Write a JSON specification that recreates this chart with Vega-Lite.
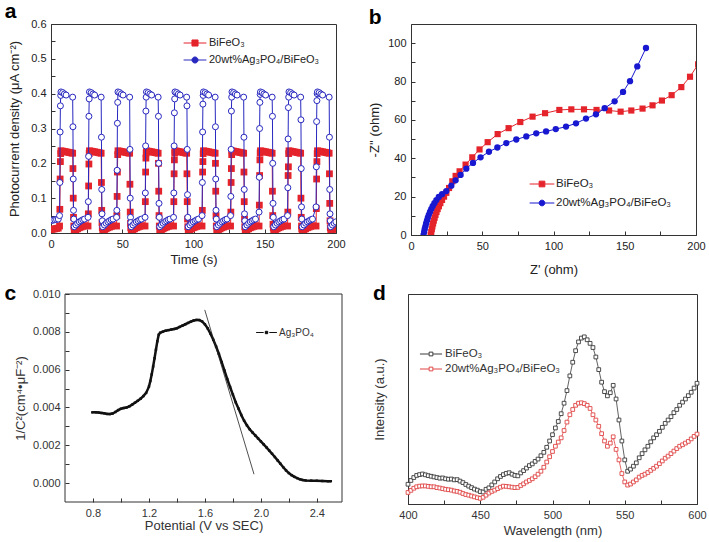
{
"$schema":"https://vega.github.io/schema/vega-lite/v6.json",
"padding":{"left":4,"top":0,"right":2,"bottom":0},
"spacing":5,
"resolve":{"scale":{"color":"independent"},"legend":{"color":"independent"}},
"config":{
 "font":"Liberation Sans",
 "view":{"stroke":"#333","strokeWidth":1},
 "axis":{"grid":false,"domainColor":"#333","tickColor":"#333","labelFontSize":11,"titleFontSize":13,"labelColor":"#222","titleColor":"#222","titleFontWeight":"normal","tickSize":-4,"labelPadding":9,"labelFlush":false,"labelOverlap":false},
 "legend":{"padding":0,"labelFontSize":11,"labelColor":"#222","rowPadding":0,"symbolStrokeWidth":1},
 "title":{"fontSize":21,"fontWeight":"bold","anchor":"start","frame":"bounds","color":"#000"}
},
"datasets":{
"aR":[{"t":0.3,"v":0.01},{"t":1.5,"v":0.011},{"t":2.7,"v":0.012},{"t":3.9,"v":0.013},{"t":5.1,"v":0.014},
{"t":6,"v":0.02},{"t":6.2,"v":0.068},{"t":6.4,"v":0.155},{"t":6.6,"v":0.205},{"t":6.8,"v":0.228},{"t":7,"v":0.236},{"t":8.2,"v":0.235},{"t":9.4,"v":0.234},{"t":10.6,"v":0.233},{"t":11.8,"v":0.232},{"t":13,"v":0.231},{"t":14.2,"v":0.23},{"t":15.2,"v":0.229},{"t":15.4,"v":0.185},{"t":15.6,"v":0.1},{"t":15.8,"v":0.045},{"t":16,"v":0.02},{"t":16.3,"v":0.006},{"t":17.5,"v":0.009},{"t":18.7,"v":0.012},{"t":19.9,"v":0.015},{"t":21.1,"v":0.017},{"t":22.3,"v":0.019},{"t":23.5,"v":0.021},
{"t":26,"v":0.02},{"t":26.2,"v":0.055},{"t":26.4,"v":0.135},{"t":26.6,"v":0.198},{"t":26.8,"v":0.228},{"t":27,"v":0.236},{"t":28.2,"v":0.235},{"t":29.4,"v":0.234},{"t":30.6,"v":0.233},{"t":31.8,"v":0.232},{"t":33,"v":0.231},{"t":34.2,"v":0.23},{"t":35.2,"v":0.229},{"t":35.4,"v":0.145},{"t":35.6,"v":0.065},{"t":35.8,"v":0.03},{"t":36,"v":0.015},{"t":36.3,"v":0.006},{"t":37.5,"v":0.009},{"t":38.7,"v":0.012},{"t":39.9,"v":0.015},{"t":41.1,"v":0.017},{"t":42.3,"v":0.019},{"t":43.5,"v":0.021},
{"t":46,"v":0.02},{"t":46.2,"v":0.05},{"t":46.4,"v":0.105},{"t":46.6,"v":0.175},{"t":46.8,"v":0.225},{"t":47,"v":0.236},{"t":48.2,"v":0.235},{"t":49.4,"v":0.234},{"t":50.6,"v":0.233},{"t":51.8,"v":0.232},{"t":53,"v":0.231},{"t":54.2,"v":0.23},{"t":55.2,"v":0.229},{"t":55.4,"v":0.14},{"t":55.6,"v":0.06},{"t":55.8,"v":0.028},{"t":56,"v":0.015},{"t":56.3,"v":0.006},{"t":57.5,"v":0.009},{"t":58.7,"v":0.012},{"t":59.9,"v":0.015},{"t":61.1,"v":0.017},{"t":62.3,"v":0.019},{"t":63.5,"v":0.021},
{"t":66,"v":0.02},{"t":66.2,"v":0.09},{"t":66.4,"v":0.175},{"t":66.6,"v":0.215},{"t":66.8,"v":0.23},{"t":67,"v":0.236},{"t":68.2,"v":0.235},{"t":69.4,"v":0.234},{"t":70.6,"v":0.233},{"t":71.8,"v":0.232},{"t":73,"v":0.231},{"t":74.2,"v":0.23},{"t":75.2,"v":0.229},{"t":75.4,"v":0.2},{"t":75.6,"v":0.12},{"t":75.8,"v":0.05},{"t":76,"v":0.02},{"t":76.3,"v":0.006},{"t":77.5,"v":0.009},{"t":78.7,"v":0.012},{"t":79.9,"v":0.015},{"t":81.1,"v":0.017},{"t":82.3,"v":0.019},{"t":83.5,"v":0.021},
{"t":86,"v":0.02},{"t":86.2,"v":0.09},{"t":86.4,"v":0.17},{"t":86.6,"v":0.21},{"t":86.8,"v":0.23},{"t":87,"v":0.236},{"t":88.2,"v":0.235},{"t":89.4,"v":0.234},{"t":90.6,"v":0.233},{"t":91.8,"v":0.232},{"t":93,"v":0.231},{"t":94.2,"v":0.23},{"t":95.2,"v":0.229},{"t":95.4,"v":0.17},{"t":95.6,"v":0.09},{"t":95.8,"v":0.04},{"t":96,"v":0.018},{"t":96.3,"v":0.006},{"t":97.5,"v":0.009},{"t":98.7,"v":0.012},{"t":99.9,"v":0.015},{"t":101.1,"v":0.017},{"t":102.3,"v":0.019},{"t":103.5,"v":0.021},
{"t":106,"v":0.02},{"t":106.2,"v":0.065},{"t":106.4,"v":0.175},{"t":106.6,"v":0.205},{"t":106.8,"v":0.228},{"t":107,"v":0.236},{"t":108.2,"v":0.235},{"t":109.4,"v":0.234},{"t":110.6,"v":0.233},{"t":111.8,"v":0.232},{"t":113,"v":0.231},{"t":114.2,"v":0.23},{"t":115.2,"v":0.229},{"t":115.4,"v":0.2},{"t":115.6,"v":0.12},{"t":115.8,"v":0.05},{"t":116,"v":0.02},{"t":116.3,"v":0.006},{"t":117.5,"v":0.009},{"t":118.7,"v":0.012},{"t":119.9,"v":0.015},{"t":121.1,"v":0.017},{"t":122.3,"v":0.019},{"t":123.5,"v":0.021},
{"t":126,"v":0.02},{"t":126.2,"v":0.06},{"t":126.4,"v":0.145},{"t":126.6,"v":0.185},{"t":126.8,"v":0.225},{"t":127,"v":0.236},{"t":128.2,"v":0.235},{"t":129.4,"v":0.234},{"t":130.6,"v":0.233},{"t":131.8,"v":0.232},{"t":133,"v":0.231},{"t":134.2,"v":0.23},{"t":135.2,"v":0.229},{"t":135.4,"v":0.175},{"t":135.6,"v":0.09},{"t":135.8,"v":0.04},{"t":136,"v":0.018},{"t":136.3,"v":0.006},{"t":137.5,"v":0.009},{"t":138.7,"v":0.012},{"t":139.9,"v":0.015},{"t":141.1,"v":0.017},{"t":142.3,"v":0.019},{"t":143.5,"v":0.021},
{"t":146,"v":0.02},{"t":146.2,"v":0.08},{"t":146.4,"v":0.165},{"t":146.6,"v":0.21},{"t":146.8,"v":0.23},{"t":147,"v":0.236},{"t":148.2,"v":0.235},{"t":149.4,"v":0.234},{"t":150.6,"v":0.233},{"t":151.8,"v":0.232},{"t":153,"v":0.231},{"t":154.2,"v":0.23},{"t":155.2,"v":0.229},{"t":155.4,"v":0.12},{"t":155.6,"v":0.05},{"t":155.8,"v":0.025},{"t":156,"v":0.015},{"t":156.3,"v":0.006},{"t":157.5,"v":0.009},{"t":158.7,"v":0.012},{"t":159.9,"v":0.015},{"t":161.1,"v":0.017},{"t":162.3,"v":0.019},{"t":163.5,"v":0.021},
{"t":166,"v":0.02},{"t":166.2,"v":0.06},{"t":166.4,"v":0.165},{"t":166.6,"v":0.19},{"t":166.8,"v":0.228},{"t":167,"v":0.236},{"t":168.2,"v":0.235},{"t":169.4,"v":0.234},{"t":170.6,"v":0.233},{"t":171.8,"v":0.232},{"t":173,"v":0.231},{"t":174.2,"v":0.23},{"t":175.2,"v":0.229},{"t":175.4,"v":0.1},{"t":175.6,"v":0.045},{"t":175.8,"v":0.02},{"t":176,"v":0.012},{"t":176.3,"v":0.006},{"t":177.5,"v":0.009},{"t":178.7,"v":0.012},{"t":179.9,"v":0.015},{"t":181.1,"v":0.017},{"t":182.3,"v":0.019},{"t":183.5,"v":0.021},
{"t":186,"v":0.02},{"t":186.2,"v":0.07},{"t":186.4,"v":0.155},{"t":186.6,"v":0.205},{"t":186.8,"v":0.228},{"t":187,"v":0.236},{"t":188.2,"v":0.235},{"t":189.4,"v":0.234},{"t":190.6,"v":0.233},{"t":191.8,"v":0.232},{"t":193,"v":0.231},{"t":194.2,"v":0.23},{"t":195.2,"v":0.229},{"t":195.4,"v":0.17},{"t":195.6,"v":0.085},{"t":195.8,"v":0.035},{"t":196,"v":0.015},{"t":196.3,"v":0.006},{"t":197.5,"v":0.009},{"t":198.7,"v":0.012},{"t":199.9,"v":0.015}],
"aB":[{"t":0.3,"v":0.036},{"t":1.5,"v":0.037},{"t":2.7,"v":0.038},{"t":3.9,"v":0.039},{"t":5.1,"v":0.04},
{"t":6,"v":0.05},{"t":6.2,"v":0.145},{"t":6.4,"v":0.29},{"t":6.6,"v":0.365},{"t":6.8,"v":0.395},{"t":7,"v":0.405},{"t":8.2,"v":0.403},{"t":9.4,"v":0.399},{"t":10.6,"v":0.396},{"t":15.2,"v":0.39},{"t":15.4,"v":0.305},{"t":15.6,"v":0.155},{"t":15.8,"v":0.065},{"t":16,"v":0.04},{"t":16.3,"v":0.018},{"t":17.5,"v":0.023},{"t":18.7,"v":0.028},{"t":19.9,"v":0.032},{"t":21.1,"v":0.035},{"t":22.3,"v":0.038},{"t":23.5,"v":0.04},
{"t":26,"v":0.045},{"t":26.2,"v":0.09},{"t":26.4,"v":0.22},{"t":26.6,"v":0.335},{"t":26.8,"v":0.385},{"t":27,"v":0.405},{"t":28.2,"v":0.403},{"t":29.4,"v":0.399},{"t":30.6,"v":0.396},{"t":35.2,"v":0.39},{"t":35.4,"v":0.275},{"t":35.6,"v":0.125},{"t":35.8,"v":0.055},{"t":36,"v":0.035},{"t":36.3,"v":0.018},{"t":37.5,"v":0.023},{"t":38.7,"v":0.028},{"t":39.9,"v":0.032},{"t":41.1,"v":0.035},{"t":42.3,"v":0.038},{"t":43.5,"v":0.04},
{"t":46,"v":0.045},{"t":46.2,"v":0.065},{"t":46.4,"v":0.18},{"t":46.6,"v":0.315},{"t":46.8,"v":0.375},{"t":47,"v":0.405},{"t":48.2,"v":0.403},{"t":49.4,"v":0.399},{"t":50.6,"v":0.396},{"t":55.2,"v":0.39},{"t":55.4,"v":0.24},{"t":55.6,"v":0.1},{"t":55.8,"v":0.045},{"t":56,"v":0.03},{"t":56.3,"v":0.018},{"t":57.5,"v":0.023},{"t":58.7,"v":0.028},{"t":59.9,"v":0.032},{"t":61.1,"v":0.035},{"t":62.3,"v":0.038},{"t":63.5,"v":0.04},
{"t":66,"v":0.045},{"t":66.2,"v":0.115},{"t":66.4,"v":0.25},{"t":66.6,"v":0.35},{"t":66.8,"v":0.39},{"t":67,"v":0.405},{"t":68.2,"v":0.403},{"t":69.4,"v":0.399},{"t":70.6,"v":0.396},{"t":75.2,"v":0.39},{"t":75.4,"v":0.335},{"t":75.6,"v":0.2},{"t":75.8,"v":0.085},{"t":76,"v":0.045},{"t":76.3,"v":0.018},{"t":77.5,"v":0.023},{"t":78.7,"v":0.028},{"t":79.9,"v":0.032},{"t":81.1,"v":0.035},{"t":82.3,"v":0.038},{"t":83.5,"v":0.04},
{"t":86,"v":0.045},{"t":86.2,"v":0.115},{"t":86.4,"v":0.25},{"t":86.6,"v":0.345},{"t":86.8,"v":0.385},{"t":87,"v":0.405},{"t":88.2,"v":0.403},{"t":89.4,"v":0.399},{"t":90.6,"v":0.396},{"t":95.2,"v":0.39},{"t":95.4,"v":0.365},{"t":95.6,"v":0.24},{"t":95.8,"v":0.11},{"t":96,"v":0.045},{"t":96.3,"v":0.018},{"t":97.5,"v":0.023},{"t":98.7,"v":0.028},{"t":99.9,"v":0.032},{"t":101.1,"v":0.035},{"t":102.3,"v":0.038},{"t":103.5,"v":0.04},
{"t":106,"v":0.05},{"t":106.2,"v":0.145},{"t":106.4,"v":0.29},{"t":106.6,"v":0.37},{"t":106.8,"v":0.395},{"t":107,"v":0.405},{"t":108.2,"v":0.403},{"t":109.4,"v":0.399},{"t":110.6,"v":0.396},{"t":115.2,"v":0.39},{"t":115.4,"v":0.305},{"t":115.6,"v":0.155},{"t":115.8,"v":0.065},{"t":116,"v":0.04},{"t":116.3,"v":0.018},{"t":117.5,"v":0.023},{"t":118.7,"v":0.028},{"t":119.9,"v":0.032},{"t":121.1,"v":0.035},{"t":122.3,"v":0.038},{"t":123.5,"v":0.04},
{"t":126,"v":0.05},{"t":126.2,"v":0.105},{"t":126.4,"v":0.24},{"t":126.6,"v":0.35},{"t":126.8,"v":0.39},{"t":127,"v":0.405},{"t":128.2,"v":0.403},{"t":129.4,"v":0.399},{"t":130.6,"v":0.396},{"t":135.2,"v":0.39},{"t":135.4,"v":0.275},{"t":135.6,"v":0.125},{"t":135.8,"v":0.055},{"t":136,"v":0.035},{"t":136.3,"v":0.018},{"t":137.5,"v":0.023},{"t":138.7,"v":0.028},{"t":139.9,"v":0.032},{"t":141.1,"v":0.035},{"t":142.3,"v":0.038},{"t":143.5,"v":0.04},
{"t":146,"v":0.06},{"t":146.2,"v":0.16},{"t":146.4,"v":0.3},{"t":146.6,"v":0.375},{"t":146.8,"v":0.398},{"t":147,"v":0.405},{"t":148.2,"v":0.403},{"t":149.4,"v":0.399},{"t":150.6,"v":0.396},{"t":155.2,"v":0.39},{"t":155.4,"v":0.335},{"t":155.6,"v":0.2},{"t":155.8,"v":0.085},{"t":156,"v":0.045},{"t":156.3,"v":0.018},{"t":157.5,"v":0.023},{"t":158.7,"v":0.028},{"t":159.9,"v":0.032},{"t":161.1,"v":0.035},{"t":162.3,"v":0.038},{"t":163.5,"v":0.04},
{"t":166,"v":0.05},{"t":166.2,"v":0.13},{"t":166.4,"v":0.27},{"t":166.6,"v":0.36},{"t":166.8,"v":0.39},{"t":167,"v":0.405},{"t":168.2,"v":0.403},{"t":169.4,"v":0.399},{"t":170.6,"v":0.396},{"t":175.2,"v":0.39},{"t":175.4,"v":0.325},{"t":175.6,"v":0.185},{"t":175.8,"v":0.075},{"t":176,"v":0.04},{"t":176.3,"v":0.018},{"t":177.5,"v":0.023},{"t":178.7,"v":0.028},{"t":179.9,"v":0.032},{"t":181.1,"v":0.035},{"t":182.3,"v":0.038},{"t":183.5,"v":0.04},
{"t":186,"v":0.075},{"t":186.2,"v":0.19},{"t":186.4,"v":0.32},{"t":186.6,"v":0.38},{"t":186.8,"v":0.4},{"t":187,"v":0.405},{"t":188.2,"v":0.403},{"t":189.4,"v":0.399},{"t":190.6,"v":0.396},{"t":195.2,"v":0.39},{"t":195.4,"v":0.275},{"t":195.6,"v":0.125},{"t":195.8,"v":0.055},{"t":196,"v":0.035},{"t":196.3,"v":0.018},{"t":197.5,"v":0.023},{"t":198.7,"v":0.028},{"t":199.9,"v":0.032}],
"bR":[{"x":13.8,"y":0},{"x":14.2,"y":1.5},{"x":14.6,"y":3},{"x":15,"y":4.5},{"x":15.5,"y":6},{"x":16,"y":7.5},{"x":16.6,"y":9},{"x":17.2,"y":10.5},{"x":17.9,"y":12},{"x":18.7,"y":13.5},{"x":19.6,"y":15},{"x":20.6,"y":16.6},{"x":21.8,"y":18.3},{"x":23.2,"y":20},{"x":24.8,"y":22},{"x":26.7,"y":24.5},{"x":29,"y":28},{"x":31.3,"y":30.8},{"x":34.1,"y":33.2},{"x":38.3,"y":36.7},{"x":43,"y":40.5},{"x":48.1,"y":44.6},{"x":53.8,"y":48.4},{"x":60.8,"y":52.6},{"x":68.5,"y":55.7},{"x":76.7,"y":58.9},{"x":85.3,"y":61.7},{"x":94.1,"y":63.5},{"x":104.1,"y":65.2},{"x":112.5,"y":65.5},{"x":121.4,"y":65.5},{"x":130.2,"y":65.2},{"x":139,"y":64.9},{"x":147.1,"y":64.3},{"x":154.6,"y":64.9},{"x":162.5,"y":65.9},{"x":169.5,"y":67.6},{"x":176.1,"y":70.1},{"x":182.9,"y":72.9},{"x":189.7,"y":77.1},{"x":195.8,"y":82.5},{"x":201.5,"y":89}],
"bB":[{"x":8.8,"y":0},{"x":9.2,"y":1.5},{"x":9.6,"y":3},{"x":10.1,"y":4.5},{"x":10.6,"y":6},{"x":11.2,"y":7.5},{"x":11.8,"y":9},{"x":12.5,"y":10.5},{"x":13.3,"y":12},{"x":14.2,"y":13.5},{"x":15.2,"y":15},{"x":16.4,"y":16.6},{"x":17.8,"y":18.2},{"x":19.5,"y":19.8},{"x":21.8,"y":21.3},{"x":24.8,"y":22.9},{"x":28.3,"y":25.7},{"x":31.3,"y":28.5},{"x":34.8,"y":31.3},{"x":38.8,"y":34.6},{"x":43.5,"y":37.6},{"x":48.8,"y":40.5},{"x":54.7,"y":43.4},{"x":60.6,"y":45.6},{"x":66.9,"y":47.9},{"x":73.9,"y":49.8},{"x":80.9,"y":51.4},{"x":87.9,"y":53},{"x":94.8,"y":54},{"x":101.6,"y":55.2},{"x":108.8,"y":56.5},{"x":115.8,"y":58.2},{"x":122.8,"y":60.7},{"x":129.8,"y":62.9},{"x":135.9,"y":66.1},{"x":142.9,"y":69.7},{"x":148.8,"y":74.6},{"x":153.7,"y":80.2},{"x":158.8,"y":87.9},{"x":164.9,"y":97.5}],
"c":[{"x":0.795,"y":0.00374},{"x":0.82,"y":0.00374},{"x":0.84,"y":0.00373},{"x":0.86,"y":0.00371},{"x":0.88,"y":0.00369},{"x":0.9,"y":0.00366},{"x":0.92,"y":0.00365},{"x":0.94,"y":0.00368},{"x":0.96,"y":0.00376},{"x":0.98,"y":0.00386},{"x":1.0,"y":0.00393},{"x":1.02,"y":0.00397},{"x":1.04,"y":0.004},{"x":1.06,"y":0.00406},{"x":1.08,"y":0.00415},{"x":1.1,"y":0.00425},{"x":1.12,"y":0.00435},{"x":1.14,"y":0.00446},{"x":1.16,"y":0.0046},{"x":1.18,"y":0.00477},{"x":1.2,"y":0.0051},{"x":1.21,"y":0.0054},{"x":1.22,"y":0.00575},{"x":1.23,"y":0.00617},{"x":1.24,"y":0.0066},{"x":1.25,"y":0.00705},{"x":1.26,"y":0.0075},{"x":1.27,"y":0.00785},{"x":1.28,"y":0.00795},{"x":1.3,"y":0.00801},{"x":1.32,"y":0.00806},{"x":1.34,"y":0.00809},{"x":1.36,"y":0.00812},{"x":1.38,"y":0.00815},{"x":1.4,"y":0.00819},{"x":1.42,"y":0.00826},{"x":1.44,"y":0.00833},{"x":1.46,"y":0.0084},{"x":1.48,"y":0.00847},{"x":1.5,"y":0.00854},{"x":1.52,"y":0.0086},{"x":1.54,"y":0.00863},{"x":1.56,"y":0.00862},{"x":1.58,"y":0.00855},{"x":1.6,"y":0.0084},{"x":1.62,"y":0.00818},{"x":1.64,"y":0.0079},{"x":1.66,"y":0.00758},{"x":1.68,"y":0.00722},{"x":1.7,"y":0.00683},{"x":1.72,"y":0.0064},{"x":1.74,"y":0.00595},{"x":1.76,"y":0.0055},{"x":1.78,"y":0.00508},{"x":1.8,"y":0.00468},{"x":1.82,"y":0.00428},{"x":1.84,"y":0.00394},{"x":1.86,"y":0.0036},{"x":1.88,"y":0.0033},{"x":1.9,"y":0.00306},{"x":1.92,"y":0.00285},{"x":1.94,"y":0.00268},{"x":1.96,"y":0.00252},{"x":1.98,"y":0.00236},{"x":2.0,"y":0.00221},{"x":2.02,"y":0.00205},{"x":2.04,"y":0.00189},{"x":2.06,"y":0.00172},{"x":2.08,"y":0.00155},{"x":2.1,"y":0.00138},{"x":2.12,"y":0.0012},{"x":2.14,"y":0.00102},{"x":2.16,"y":0.00084},{"x":2.18,"y":0.00067},{"x":2.2,"y":0.00053},{"x":2.22,"y":0.00042},{"x":2.24,"y":0.00033},{"x":2.26,"y":0.00026},{"x":2.28,"y":0.0002},{"x":2.3,"y":0.00016},{"x":2.32,"y":0.00014},{"x":2.36,"y":0.00013},{"x":2.4,"y":0.00012},{"x":2.44,"y":0.00011},{"x":2.48,"y":0.0001},{"x":2.5,"y":0.0001}],
"cl":[{"x":1.599,"y":0.00916},{"x":1.951,"y":0.00047}],
"dK":[{"w":400,"i":9.4},{"w":402,"i":11.2},{"w":404,"i":12.6},{"w":406,"i":13.6},{"w":408,"i":14},{"w":410,"i":14.3},{"w":412,"i":13.9},{"w":414,"i":13.5},{"w":416,"i":13.2},{"w":418,"i":12.9},{"w":420,"i":12.6},{"w":422,"i":12.3},{"w":424,"i":12.4},{"w":426,"i":12},{"w":428,"i":11.8},{"w":430,"i":11.9},{"w":432,"i":11.5},{"w":434,"i":11.6},{"w":436,"i":10.9},{"w":438,"i":10.2},{"w":440,"i":9.3},{"w":442,"i":8.5},{"w":444,"i":7.8},{"w":446,"i":7.1},{"w":448,"i":6.6},{"w":450,"i":5.9},{"w":452,"i":5.7},{"w":454,"i":7},{"w":456,"i":7.7},{"w":458,"i":9.1},{"w":460,"i":10.5},{"w":462,"i":12},{"w":464,"i":13.1},{"w":466,"i":14},{"w":468,"i":14.6},{"w":470,"i":14.9},{"w":472,"i":14.2},{"w":474,"i":13.6},{"w":476,"i":13.4},{"w":478,"i":14.8},{"w":480,"i":15.9},{"w":482,"i":17.1},{"w":484,"i":18.3},{"w":486,"i":19.1},{"w":488,"i":20.3},{"w":490,"i":21.4},{"w":492,"i":23},{"w":494,"i":24.6},{"w":496,"i":27},{"w":498,"i":30},{"w":500,"i":33},{"w":502,"i":36.2},{"w":504,"i":39.3},{"w":506,"i":43},{"w":508,"i":48},{"w":510,"i":54},{"w":512,"i":61},{"w":514,"i":67.5},{"w":516,"i":73},{"w":518,"i":77.2},{"w":520,"i":79},{"w":522,"i":79.6},{"w":524,"i":78.2},{"w":526,"i":76.5},{"w":528,"i":74.5},{"w":530,"i":70},{"w":532,"i":64},{"w":534,"i":58},{"w":536,"i":53.5},{"w":538,"i":51.5},{"w":540,"i":53},{"w":542,"i":56.5},{"w":544,"i":50},{"w":546,"i":40},{"w":548,"i":30},{"w":550,"i":21},{"w":552,"i":15.6},{"w":554,"i":16.6},{"w":556,"i":18},{"w":558,"i":19.6},{"w":560,"i":22},{"w":562,"i":24},{"w":564,"i":25.8},{"w":566,"i":27.5},{"w":568,"i":29.6},{"w":570,"i":31.5},{"w":572,"i":33},{"w":574,"i":34.6},{"w":576,"i":36.5},{"w":578,"i":38.4},{"w":580,"i":40},{"w":582,"i":41.6},{"w":584,"i":43.5},{"w":586,"i":45},{"w":588,"i":47},{"w":590,"i":48.5},{"w":592,"i":50},{"w":594,"i":51.6},{"w":596,"i":53.2},{"w":598,"i":55.2},{"w":600,"i":57.5}],
"dR":[{"w":400,"i":5.5},{"w":402,"i":6.5},{"w":404,"i":7.5},{"w":406,"i":8.2},{"w":408,"i":8.5},{"w":410,"i":8.6},{"w":412,"i":8.6},{"w":414,"i":8.4},{"w":416,"i":8.2},{"w":418,"i":8.2},{"w":420,"i":7.8},{"w":422,"i":7.6},{"w":424,"i":7.3},{"w":426,"i":7},{"w":428,"i":6.8},{"w":430,"i":6.6},{"w":432,"i":6.2},{"w":434,"i":6},{"w":436,"i":5.6},{"w":438,"i":5},{"w":440,"i":4.5},{"w":442,"i":4.2},{"w":444,"i":3.8},{"w":446,"i":3.4},{"w":448,"i":3},{"w":450,"i":2.7},{"w":452,"i":3.2},{"w":454,"i":4.2},{"w":456,"i":5.2},{"w":458,"i":6},{"w":460,"i":6.6},{"w":462,"i":7.3},{"w":464,"i":8},{"w":466,"i":8.5},{"w":468,"i":8.4},{"w":470,"i":8.2},{"w":472,"i":8},{"w":474,"i":7.8},{"w":476,"i":7.9},{"w":478,"i":8.8},{"w":480,"i":9.6},{"w":482,"i":10.5},{"w":484,"i":11.2},{"w":486,"i":12},{"w":488,"i":13},{"w":490,"i":14.2},{"w":492,"i":15.6},{"w":494,"i":17.5},{"w":496,"i":20},{"w":498,"i":22.5},{"w":500,"i":25},{"w":502,"i":27.5},{"w":504,"i":29.5},{"w":506,"i":31.5},{"w":508,"i":35},{"w":510,"i":39},{"w":512,"i":42.5},{"w":514,"i":45},{"w":516,"i":47},{"w":518,"i":48},{"w":520,"i":48.2},{"w":522,"i":47.8},{"w":524,"i":47},{"w":526,"i":45.5},{"w":528,"i":42.5},{"w":530,"i":40},{"w":532,"i":37},{"w":534,"i":33.5},{"w":536,"i":30},{"w":538,"i":27.5},{"w":540,"i":29},{"w":542,"i":32},{"w":544,"i":26},{"w":546,"i":21},{"w":548,"i":14.5},{"w":550,"i":10.5},{"w":552,"i":9},{"w":554,"i":9.5},{"w":556,"i":10.5},{"w":558,"i":11.5},{"w":560,"i":12.8},{"w":562,"i":13.6},{"w":564,"i":14.2},{"w":566,"i":15},{"w":568,"i":16},{"w":570,"i":17},{"w":572,"i":18},{"w":574,"i":19.2},{"w":576,"i":20.5},{"w":578,"i":21.8},{"w":580,"i":22.8},{"w":582,"i":24},{"w":584,"i":25.2},{"w":586,"i":26.4},{"w":588,"i":27.5},{"w":590,"i":28.2},{"w":592,"i":29},{"w":594,"i":29.8},{"w":596,"i":31},{"w":598,"i":32.2},{"w":600,"i":33.3}]
},
"vconcat":[
{"hconcat":[
 {"title":{"text":"a","offset":-4,"dx":-4},"width":285,"height":209,
  "encoding":{
   "x":{"field":"t","type":"quantitative","scale":{"domain":[0,200],"nice":false},"axis":{"title":"Time (s)","titlePadding":4,"values":[0,25,50,75,100,125,150,175,200],"labelExpr":"datum.value % 50 == 0 ? datum.label : ''"}},
   "y":{"field":"v","type":"quantitative","scale":{"domain":[0,0.6],"nice":false},"axis":{"title":"Photocurrent density (μA cm⁻²)","titlePadding":9,"values":[0,0.05,0.1,0.15,0.2,0.25,0.3,0.35,0.4,0.45,0.5,0.55,0.6],"labelExpr":"abs(datum.value*10-round(datum.value*10))<0.001 ? format(datum.value,'.1f') : ''"}},
   "color":{"datum":"BiFeO₃","scale":{"domain":["BiFeO₃","20wt%Ag₃PO₄/BiFeO₃"],"range":["#e4232b","#2828c0"]},
    "legend":{"title":null,"orient":"none","legendX":134,"legendY":9,"symbolSize":361,"labelOffset":4,"labelFontSize":11,"rowPadding":1,
     "encode":{"symbols":{"update":{"shape":{"signal":"datum.value == 'BiFeO₃' ? 'M-1.2,0H-0.3M0.3,0H1.2M-0.32,-0.32H0.32V0.32H-0.32Z' : 'M-1.2,0H-0.32M0.32,0H1.2M-0.32,0A0.32,0.32 0 1,1 0.32,0A0.32,0.32 0 1,1 -0.32,0Z'"},"fill":{"signal":"datum.value == 'BiFeO₃' ? '#e4232b' : '#ffffff'"},"stroke":{"signal":"datum.value == 'BiFeO₃' ? '#e4232b' : '#2828c0'"},"strokeWidth":{"value":1}}}}}}
  },
  "layer":[
   {"data":{"name":"aR"},"layer":[
     {"mark":{"type":"line","strokeWidth":1,"clip":true},"encoding":{"color":{"datum":"BiFeO₃"}}},
     {"mark":{"type":"point","shape":"square","filled":true,"size":46,"opacity":1,"clip":true},"encoding":{"color":{"datum":"BiFeO₃"}}}]},
   {"data":{"name":"aB"},"layer":[
     {"mark":{"type":"line","strokeWidth":1,"clip":true},"encoding":{"color":{"datum":"20wt%Ag₃PO₄/BiFeO₃"}}},
     {"mark":{"type":"point","shape":"circle","filled":false,"fill":"#ffffff","size":36,"strokeWidth":1,"opacity":1,"clip":true},"encoding":{"color":{"datum":"20wt%Ag₃PO₄/BiFeO₃"}}}]}
  ]},
 {"title":{"text":"b","offset":-4},"width":285,"height":211,
  "encoding":{
   "x":{"field":"x","type":"quantitative","scale":{"domain":[0,200],"nice":false},"axis":{"title":"Z' (ohm)","titlePadding":12,"values":[0,25,50,75,100,125,150,175,200],"labelExpr":"datum.value % 50 == 0 ? datum.label : ''"}},
   "y":{"field":"y","type":"quantitative","scale":{"domain":[0,110],"nice":false},"axis":{"title":"-Z'' (ohm)","titlePadding":6,"values":[0,10,20,30,40,50,60,70,80,90,100],"labelExpr":"datum.value % 20 == 0 ? datum.label : ''"}},
   "color":{"datum":"BiFeO₃","scale":{"domain":["BiFeO₃","20wt%Ag₃PO₄/BiFeO₃"],"range":["#e4232b","#1818d0"]},
    "legend":{"title":null,"orient":"none","legendX":121,"legendY":150,"symbolSize":361,"labelOffset":4,"labelFontSize":11.5,"rowPadding":3,
     "encode":{"symbols":{"update":{"shape":{"signal":"datum.value == 'BiFeO₃' ? 'M-1.3,0H-0.3M0.3,0H1.3M-0.3,-0.3H0.3V0.3H-0.3Z' : 'M-1.3,0H-0.3M0.3,0H1.3M-0.3,0A0.3,0.3 0 1,1 0.3,0A0.3,0.3 0 1,1 -0.3,0Z'"},"fill":{"signal":"datum.value == 'BiFeO₃' ? '#e4232b' : '#1818d0'"},"stroke":{"signal":"datum.value == 'BiFeO₃' ? '#e88a8a' : '#8080e0'"},"strokeWidth":{"value":1}}}}}}
  },
  "layer":[
   {"data":{"name":"bR"},"layer":[
     {"mark":{"type":"line","strokeWidth":1,"clip":true},"encoding":{"color":{"datum":"BiFeO₃"}}},
     {"mark":{"type":"point","shape":"square","filled":true,"size":38,"opacity":1,"clip":true},"encoding":{"color":{"datum":"BiFeO₃"}}}]},
   {"data":{"name":"bB"},"layer":[
     {"mark":{"type":"line","strokeWidth":1,"clip":true},"encoding":{"color":{"datum":"20wt%Ag₃PO₄/BiFeO₃"}}},
     {"mark":{"type":"point","shape":"circle","filled":true,"size":40,"opacity":1,"clip":true},"encoding":{"color":{"datum":"20wt%Ag₃PO₄/BiFeO₃"}}}]}
  ]}
],"spacing":22,"resolve":{"scale":{"color":"independent"},"legend":{"color":"independent"}}},
{"hconcat":[
 {"title":{"text":"c","offset":-16,"dx":-10},"width":291,"height":208,"view":{"stroke":null},
  "encoding":{
   "x":{"field":"x","type":"quantitative","scale":{"domain":[0.6,2.58],"nice":false,"zero":false,"range":[14,291]},"axis":{"title":"Potential (V vs SEC)","titlePadding":1,"domain":false,"values":[0.8,1.0,1.2,1.4,1.6,1.8,2.0,2.2,2.4],"labelExpr":"abs((datum.value-0.8)/0.4-round((datum.value-0.8)/0.4))<0.01 ? format(datum.value,'.1f') : ''","labelColor":"#333","titleColor":"#333"}},
   "y":{"field":"y","type":"quantitative","scale":{"domain":[-0.001,0.01],"nice":false},"axis":{"title":"1/C²(cm⁴•μF⁻²)","titlePadding":5,"offset":-14,"domain":false,"values":[0,0.001,0.002,0.003,0.004,0.005,0.006,0.007,0.008,0.009,0.01],"labelExpr":"round(datum.value*1000) % 2 == 0 ? format(datum.value,'.3f') : ''","labelColor":"#333","titleColor":"#333"}}
  },
  "layer":[
   {"data":{"values":[{"x":0.6,"x2":2.58,"y":-0.001,"y2":0.01}]},"mark":{"type":"rect","fill":null,"filled":false,"stroke":"#333","strokeWidth":1},"encoding":{"x2":{"field":"x2"},"y2":{"field":"y2"}}},
   {"data":{"name":"c"},"layer":[
     {"mark":{"type":"line","strokeWidth":2.5},"encoding":{"color":{"datum":"Ag₃PO₄","scale":{"domain":["Ag₃PO₄"],"range":["#111111"]},"legend":{"title":null,"orient":"none","legendX":207,"legendY":30,"symbolSize":256,"labelOffset":4,"labelFontSize":10,"labelColor":"#333",
       "encode":{"symbols":{"update":{"shape":{"value":"M-1.3,0H-0.35M-0.15,0H0.15M0.35,0H1.3M-0.15,-0.15H0.15V0.15H-0.15Z"},"fill":{"value":"#111"},"stroke":{"value":"#111"},"strokeWidth":{"value":1}}}}}}}},
     {"mark":{"type":"point","shape":"square","filled":true,"size":6,"color":"#111","opacity":1},"encoding":{}}]},
   {"data":{"name":"cl"},"mark":{"type":"line","strokeWidth":0.8,"color":"#222"},"encoding":{}}
  ]},
 {"title":{"text":"d","offset":-10},"width":289,"height":210,
  "encoding":{
   "x":{"field":"w","type":"quantitative","scale":{"domain":[400,600],"nice":false,"zero":false},"axis":{"title":"Wavelength (nm)","values":[400,425,450,475,500,525,550,575,600],"labelExpr":"datum.value % 50 == 0 ? datum.label : ''","labelColor":"#333","titleColor":"#333"}},
   "y":{"field":"i","type":"quantitative","scale":{"domain":[0,100],"nice":false},"axis":{"title":"Intensity (a.u.)","labels":false,"ticks":false,"titlePadding":22,"titleColor":"#333"}},
   "color":{"datum":"BiFeO₃","scale":{"domain":["BiFeO₃","20wt%Ag₃PO₄/BiFeO₃"],"range":["#3a3a3a","#e04545"]},
    "legend":{"title":null,"orient":"none","legendX":14,"legendY":51,"symbolSize":289,"labelOffset":5,"labelFontSize":11.5,"labelColor":"#333",
     "encode":{"symbols":{"update":{"shape":{"value":"M-1.3,0H-0.25M0.25,0H1.3M-0.22,-0.22H0.22V0.22H-0.22Z"},"fill":{"value":"#ffffff"},"strokeWidth":{"value":1}}}}}}
  },
  "layer":[
   {"data":{"name":"dK"},"layer":[
     {"mark":{"type":"line","strokeWidth":0.8},"encoding":{"color":{"datum":"BiFeO₃"}}},
     {"mark":{"type":"point","shape":"square","filled":false,"fill":"#ffffff","size":14,"strokeWidth":0.9,"opacity":1},"encoding":{"color":{"datum":"BiFeO₃"}}}]},
   {"data":{"name":"dR"},"layer":[
     {"mark":{"type":"line","strokeWidth":0.8},"encoding":{"color":{"datum":"20wt%Ag₃PO₄/BiFeO₃"}}},
     {"mark":{"type":"point","shape":"square","filled":false,"fill":"#ffffff","size":14,"strokeWidth":0.9,"opacity":1},"encoding":{"color":{"datum":"20wt%Ag₃PO₄/BiFeO₃"}}}]}
  ]}
],"spacing":29,"resolve":{"scale":{"color":"independent"},"legend":{"color":"independent"}}}
]
}
